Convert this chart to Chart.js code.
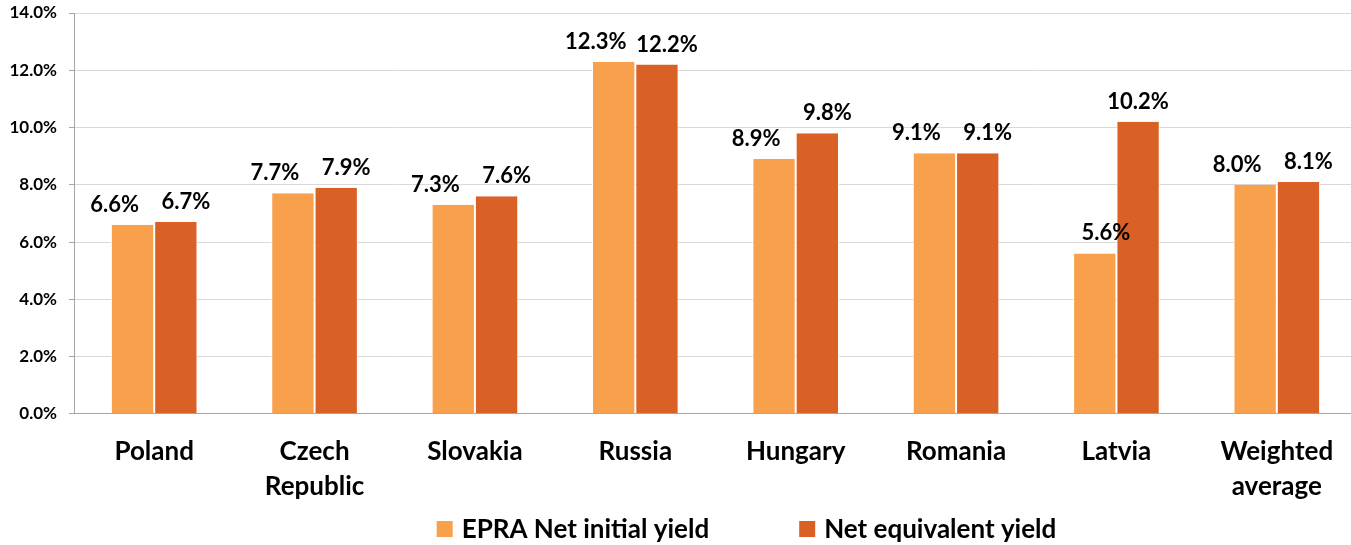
<!DOCTYPE html>
<html>
<head>
<meta charset="utf-8">
<script src="https://cdn.jsdelivr.net/npm/chart.js@4"></script>
<style>
  html, body { margin: 0; padding: 0; background: #fff; overflow: hidden; }
  #wrap { width: 1357px; height: 545px; }
</style>
</head>
<body>
<div id="wrap"><canvas id="myChart"></canvas></div>
<script>
var countries = [["Poland"], ["Czech", "Republic"], ["Slovakia"], ["Russia"], ["Hungary"], ["Romania"], ["Latvia"], ["Weighted", "average"]];
var epraYield = [6.6, 7.7, 7.3, 12.3, 8.9, 9.1, 5.6, 8.0];
var equivYield = [6.7, 7.9, 7.6, 12.2, 9.8, 9.1, 10.2, 8.1];
var seriesNames = ["EPRA Net initial yield", "Net equivalent yield"];
var seriesColors = ["#F9A04C", "#D96126"];

var fontFamily = "Lato, 'Open Sans', sans-serif";

// draws the value above each bar; when the two labels of a group
// would collide they are pushed apart sideways
var valueLabels = {
  id: "valueLabels",
  afterDatasetsDraw: function (chart) {
    var ctx = chart.ctx;
    var m0 = chart.getDatasetMeta(0).data;
    var m1 = chart.getDatasetMeta(1).data;
    ctx.save();
    ctx.font = "bold 22px " + fontFamily;
    ctx.fillStyle = "#000";
    ctx.textAlign = "center";
    ctx.textBaseline = "alphabetic";
    chart.data.datasets.forEach(function (ds, i) {
      chart.getDatasetMeta(i).data.forEach(function (bar, j) {
        var close = Math.abs(m0[j].y - m1[j].y) < 40;
        var dx = 0;
        if (close) dx = i === 0 ? -18 : 10;
        else if (i === 0) dx = 11;
        ctx.fillText(ds.data[j].toFixed(1) + "%", bar.x + dx, bar.y - 13);
      });
    });
    ctx.restore();
  }
};

// legend at the bottom, drawn by hand so the gap between items can be wide
var bottomLegend = {
  id: "bottomLegend",
  afterDraw: function (chart) {
    var ctx = chart.ctx;
    var box = 16, textGap = 9, itemGap = 90;
    ctx.save();
    ctx.font = "bold 26px " + fontFamily;
    var widths = seriesNames.map(function (n) { return ctx.measureText(n).width; });
    var total = 0;
    widths.forEach(function (w, i) { total += box + textGap + w + (i > 0 ? itemGap : 0); });
    var x = (chart.width - total) / 2 + 68;
    var y = 529;
    ctx.textBaseline = "middle";
    ctx.textAlign = "left";
    seriesNames.forEach(function (n, i) {
      ctx.fillStyle = seriesColors[i];
      ctx.fillRect(x, y - box / 2, box, box);
      ctx.fillStyle = "#000";
      ctx.fillText(n, x + box + textGap, y + 1);
      x += box + textGap + widths[i] + itemGap;
    });
    ctx.restore();
  }
};

new Chart("myChart", {
  type: "bar",
  data: {
    labels: countries,
    datasets: [{
      label: seriesNames[0],
      data: epraYield,
      backgroundColor: seriesColors[0],
      borderColor: "#fff",
      borderWidth: {left: 1, right: 1}
    }, {
      label: seriesNames[1],
      data: equivYield,
      backgroundColor: seriesColors[1],
      borderColor: "#fff",
      borderWidth: {left: 1, right: 1}
    }]
  },
  plugins: [valueLabels, bottomLegend],
  options: {
    responsive: true,
    maintainAspectRatio: false,
    animation: false,
    layout: {padding: {top: 0, right: 0, bottom: 21}},
    datasets: {bar: {categoryPercentage: 0.54, barPercentage: 1}},
    plugins: {
      legend: {display: false},
      tooltip: {enabled: false}
    },
    scales: {
      x: {
        grid: {display: false, drawTicks: false},
        border: {color: "#a6a6a6"},
        ticks: {color: "#000", font: {family: fontFamily, size: 26, weight: "bold", lineHeight: 1.35}, padding: 20, maxRotation: 0}
      },
      y: {
        min: 0,
        max: 14,
        afterFit: function (s) {
          s.width = 74;
          s.paddingTop = 13;
        },
        ticks: {
          stepSize: 2,
          color: "#000",
          font: {family: fontFamily, size: 17, weight: "bold"},
          padding: 12,
          callback: function (v) { return v.toFixed(1) + "%"; }
        },
        grid: {color: "#d9d9d9", tickLength: 5, tickColor: "#a6a6a6"},
        border: {color: "#a6a6a6"}
      }
    }
  }
});
</script>
</body>
</html>
